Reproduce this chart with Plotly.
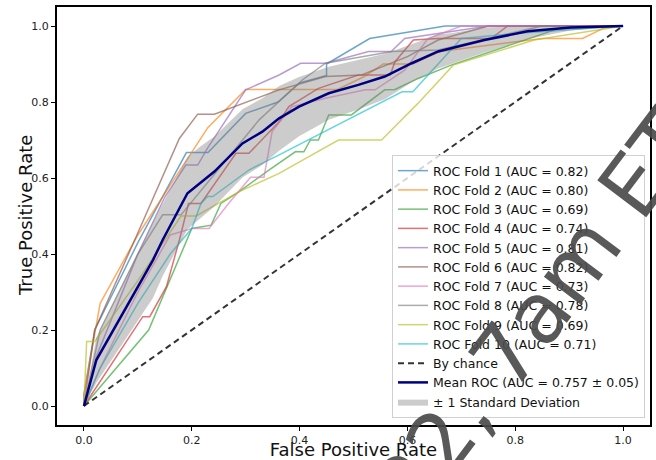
import plotly.graph_objects as go

# ---- data ----
fold_labels = ["ROC Fold 1 (AUC = 0.82)", "ROC Fold 2 (AUC = 0.80)", "ROC Fold 3 (AUC = 0.69)",
               "ROC Fold 4 (AUC = 0.74)", "ROC Fold 5 (AUC = 0.81)", "ROC Fold 6 (AUC = 0.82)",
               "ROC Fold 7 (AUC = 0.73)", "ROC Fold 8 (AUC = 0.78)", "ROC Fold 9 (AUC = 0.69)",
               "ROC Fold 10 (AUC = 0.71)"]
fold_colors = ["#1f77b4", "#ff7f0e", "#2ca02c", "#d62728", "#9467bd",
               "#8c564b", "#e377c2", "#7f7f7f", "#bcbd22", "#17becf"]

fold1_fpr = [0, 0.0, 0.02, 0.10, 0.19, 0.23, 0.30, 0.36, 0.40, 0.45, 0.45, 0.53, 0.67, 1.0]
fold1_tpr = [0, 0.03, 0.20, 0.43, 0.667, 0.667, 0.77, 0.80, 0.85, 0.87, 0.90, 0.967, 1.0, 1.0]

fold2_fpr = [0, 0.0, 0.03, 0.10, 0.23, 0.30, 0.40, 0.47, 0.52, 0.555, 0.61, 0.66, 0.85, 0.925, 0.965, 1.0]
fold2_tpr = [0, 0.03, 0.27, 0.45, 0.733, 0.833, 0.833, 0.833, 0.867, 0.90, 0.90, 0.933, 0.967, 0.967, 0.995, 1.0]

fold3_fpr = [0, 0.12, 0.20, 0.236, 0.254, 0.288, 0.343, 0.392, 0.408, 0.42, 0.435, 0.454, 0.496,
             0.533, 0.558, 0.577, 0.62, 0.681, 0.884, 1.0]
fold3_tpr = [0, 0.20, 0.467, 0.476, 0.533, 0.564, 0.621, 0.669, 0.669, 0.70, 0.70, 0.766, 0.766,
             0.805, 0.832, 0.833, 0.862, 0.897, 0.995, 1.0]

fold4_fpr = [0, 0.109, 0.122, 0.153, 0.177, 0.194, 0.217, 0.282, 0.306, 0.362, 0.38, 0.435, 0.509,
             0.568, 0.577, 0.611, 0.657, 0.755, 0.786, 1.0]
fold4_tpr = [0, 0.235, 0.235, 0.314, 0.437, 0.533, 0.533, 0.665, 0.665, 0.748, 0.788, 0.836, 0.871,
             0.871, 0.906, 0.963, 0.967, 0.967, 1.0, 1.0]

fold5_fpr = [0, 0.023, 0.10, 0.15, 0.189, 0.211, 0.229, 0.30, 0.362, 0.402, 0.448, 0.528, 0.57, 0.595, 0.75, 1.0]
fold5_tpr = [0, 0.13, 0.40, 0.55, 0.634, 0.634, 0.678, 0.832, 0.871, 0.902, 0.902, 0.933, 0.933, 0.967, 1.0, 1.0]

fold6_fpr = [0, 0.02, 0.097, 0.177, 0.211, 0.242, 0.362, 0.448, 0.515, 0.601, 0.657, 0.75, 1.0]
fold6_tpr = [0, 0.20, 0.446, 0.704, 0.768, 0.768, 0.832, 0.867, 0.871, 0.92, 0.963, 1.0, 1.0]

fold7_fpr = [0, 0.03, 0.10, 0.16, 0.20, 0.232, 0.269, 0.309, 0.334, 0.349, 0.386, 0.448, 0.522,
             0.54, 0.595, 0.638, 0.70, 1.0]
fold7_tpr = [0, 0.10, 0.30, 0.45, 0.467, 0.467, 0.534, 0.602, 0.602, 0.722, 0.788, 0.81, 0.832,
             0.832, 0.884, 0.967, 1.0, 1.0]

fold8_fpr = [0, 0.03, 0.10, 0.146, 0.18, 0.325, 0.405, 0.448, 0.571, 0.657, 0.85, 1.0]
fold8_tpr = [0, 0.20, 0.40, 0.503, 0.503, 0.753, 0.858, 0.902, 0.933, 0.937, 1.0, 1.0]

fold9_fpr = [0, 0.005, 0.02, 0.10, 0.18, 0.208, 0.288, 0.362, 0.472, 0.552, 0.62, 0.685, 0.835, 1.0]
fold9_tpr = [0, 0.17, 0.17, 0.33, 0.50, 0.50, 0.564, 0.612, 0.70, 0.70, 0.797, 0.897, 0.963, 1.0]

fold10_fpr = [0, 0.03, 0.10, 0.16, 0.20, 0.217, 0.229, 0.239, 0.306, 0.362, 0.59, 0.61, 0.70, 0.80, 1.0]
fold10_tpr = [0, 0.10, 0.27, 0.40, 0.467, 0.533, 0.551, 0.551, 0.621, 0.661, 0.827, 0.827, 0.967, 0.98, 1.0]

fold_fpr = [fold1_fpr, fold2_fpr, fold3_fpr, fold4_fpr, fold5_fpr,
            fold6_fpr, fold7_fpr, fold8_fpr, fold9_fpr, fold10_fpr]
fold_tpr = [fold1_tpr, fold2_tpr, fold3_tpr, fold4_tpr, fold5_tpr,
            fold6_tpr, fold7_tpr, fold8_tpr, fold9_tpr, fold10_tpr]

mean_fpr = [0, 0.023, 0.128, 0.146, 0.192, 0.214, 0.242, 0.294, 0.331, 0.362, 0.399, 0.454,
            0.509, 0.558, 0.608, 0.657, 0.681, 0.743, 0.823, 0.903, 1.0]
mean_tpr = [0, 0.121, 0.384, 0.437, 0.56, 0.586, 0.617, 0.691, 0.722, 0.757, 0.788, 0.823,
            0.845, 0.867, 0.902, 0.933, 0.941, 0.963, 0.986, 0.996, 1.0]
std_tpr = [0, 0.06, 0.10, 0.095, 0.095, 0.095, 0.092, 0.09, 0.088, 0.085, 0.078, 0.07,
           0.065, 0.06, 0.05, 0.045, 0.04, 0.033, 0.02, 0.008, 0]

chance_x = [0, 1]
chance_y = [0, 1]
tick_vals = [0.0, 0.2, 0.4, 0.6, 0.8, 1.0]
watermark_text = "22, 7am ET"

FONT = "DejaVu Sans"

fig = go.Figure()

for lab, col, fx, fy in zip(fold_labels, fold_colors, fold_fpr, fold_tpr):
    fig.add_trace(go.Scatter(x=fx, y=fy, mode="lines", name=lab, opacity=0.65,
                             line=dict(color=col, width=1.5), legendrank=1))

upper = [min(m + s, 1.0) for m, s in zip(mean_tpr, std_tpr)]
lower = [max(m - s, 0.0) for m, s in zip(mean_tpr, std_tpr)]
fig.add_trace(go.Scatter(x=mean_fpr + mean_fpr[::-1], y=upper + lower[::-1], mode="lines",
                         fill="toself", fillcolor="rgba(128,128,128,0.4)",
                         line=dict(width=0, color="rgba(128,128,128,0.4)"),
                         name="± 1 Standard Deviation", legendrank=4))

fig.add_trace(go.Scatter(x=chance_x, y=chance_y, mode="lines", name="By chance",
                         line=dict(color="rgba(0,0,0,0.8)", width=2, dash="6px,4px"), legendrank=2))

fig.add_trace(go.Scatter(x=mean_fpr, y=mean_tpr, mode="lines",
                         name="Mean ROC (AUC = 0.757 ± 0.05)",
                         line=dict(color="#000080", width=2.5), legendrank=3))

axis_common = dict(range=[-0.05, 1.05], tickvals=tick_vals, tickformat=".1f",
                   showgrid=False, zeroline=False, showline=True, mirror=True,
                   linecolor="black", linewidth=2, ticks="outside", ticklen=4,
                   tickwidth=1, tickcolor="black",
                   tickfont=dict(family=FONT, size=11, color="#222"))

fig.update_xaxes(**axis_common,
                 title=dict(text="False Positive Rate", font=dict(family=FONT, size=18, color="#111"),
                            standoff=2))
fig.update_yaxes(**axis_common)

fig.update_layout(
    width=656, height=460,
    margin=dict(l=57, r=6, t=7, b=35, autoexpand=False),
    paper_bgcolor="white", plot_bgcolor="white",
    font=dict(family=FONT, color="#111"),
    legend=dict(x=0.9916, y=0.0167, xanchor="right", yanchor="bottom",
                bgcolor="rgba(255,255,255,0.8)", bordercolor="#d0d0d0", borderwidth=1,
                font=dict(family=FONT, size=12.5, color="#111"), tracegroupgap=0,
                traceorder="normal"),
    showlegend=True,
)

# y-axis title placed as text at the reference's position
fig.add_annotation(text="True Positive Rate", xref="paper", yref="paper",
                   x=(25 - 57) / 593, y=0.5, xanchor="center", yanchor="middle",
                   showarrow=False, textangle=-90,
                   font=dict(family=FONT, size=18, color="#111"))

fig.add_annotation(text=watermark_text, xref="paper", yref="paper",
                   x=(537 - 57) / 593, y=(425 - 314) / 418, xanchor="center", yanchor="middle",
                   showarrow=False, textangle=-53,
                   font=dict(family=FONT, size=84, color="rgba(75,75,75,0.92)"))

fig.write_html("out.html", post_script="document.body.style.margin='0px';",
               config={"displayModeBar": False})
